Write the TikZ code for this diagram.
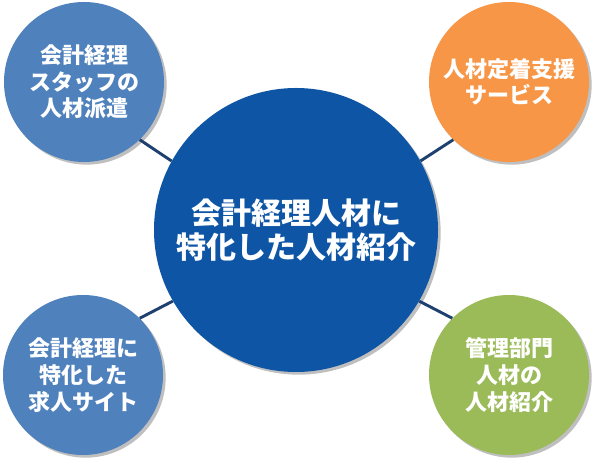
\documentclass[tikz,border=0pt]{standalone}
\usepackage{fontspec}
\newfontfamily\jp{Noto Sans CJK JP}
\usetikzlibrary{shadows}
\definecolor{cblue}{HTML}{0E56A5}
\definecolor{sblue}{HTML}{4F81BD}
\definecolor{sorange}{HTML}{F79646}
\definecolor{sgreen}{HTML}{9BBB59}
\definecolor{lnk}{HTML}{1F416F}
\tikzset{
  bubble/.style={circle, inner sep=0pt, minimum size=120pt, text=white, align=center,
    font=\jp\bfseries\fontsize{16.5pt}{20pt}\selectfont,
    drop shadow={shadow xshift=2pt, shadow yshift=-2pt, opacity=0.25, fill=black}},
  hub/.style={circle, inner sep=0pt, minimum size=213pt, text=white, align=center, fill=cblue,
    font=\jp\bfseries\fontsize{22.5pt}{25pt}\selectfont,
    drop shadow={shadow xshift=2pt, shadow yshift=-2pt, opacity=0.25, fill=black}},
  link/.style={draw=lnk, line width=2.2pt}
}
\begin{document}
\begin{tikzpicture}[x=0.75pt, y=0.75pt]
\useasboundingbox (0,0) rectangle (599,463);
\node[hub] (c) at (296,233) {会計経理人材に\\特化した人材紹介};
\node[bubble, fill=sblue] (tl) at (84,381) {会計経理\\スタッフの\\人材派遣};
\node[bubble, fill=sorange] (tr) at (509,381) {人材定着支援\\サービス};
\node[bubble, fill=sblue] (bl) at (83,88) {会計経理に\\特化した\\求人サイト};
\node[bubble, fill=sgreen] (br) at (509,88) {管理部門\\人材の\\人材紹介};
\draw[link] (tl.-46) -- (c.151);
\draw[link] (tr.226) -- (c.29);
\draw[link] (bl.45) -- (c.210);
\draw[link] (br.135) -- (c.-30);
\end{tikzpicture}
\end{document}
